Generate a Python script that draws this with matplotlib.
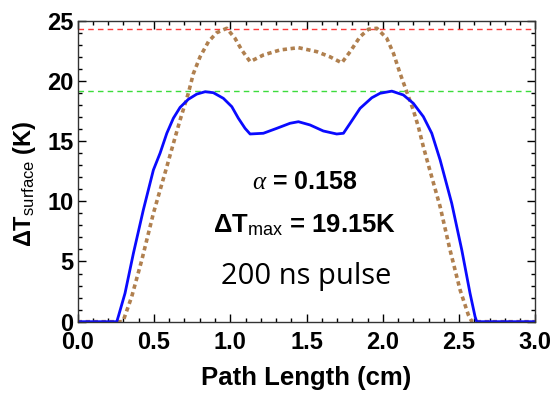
import numpy as np
import matplotlib.pyplot as plt
from matplotlib.ticker import MultipleLocator

plt.rcParams['font.family'] = ['Liberation Sans', 'DejaVu Sans']
plt.rcParams['mathtext.fontset'] = 'custom'
plt.rcParams['mathtext.rm'] = 'Liberation Sans'
plt.rcParams['mathtext.bf'] = 'Liberation Sans:bold'
plt.rcParams['mathtext.it'] = 'Liberation Serif:italic'

# Данные
x_blue = [0.0, 0.256, 0.266, 0.31, 0.365, 0.43, 0.496, 0.54, 0.584, 0.627, 0.671, 0.725,
          0.78, 0.835, 0.889, 0.955, 1.01, 1.053, 1.097, 1.13, 1.217, 1.305, 1.392,
          1.447, 1.523, 1.61, 1.698, 1.742, 1.786, 1.851, 1.928, 1.982, 2.059, 2.135,
          2.2, 2.266, 2.321, 2.376, 2.452, 2.518, 2.572, 2.605, 2.616, 3.0]
y_blue = [0.0, 0.0, 0.42, 2.36, 5.68, 9.28, 12.6, 14.0, 15.65, 16.9, 17.8, 18.47,
          18.9, 19.1, 19.02, 18.55, 17.86, 16.9, 16.06, 15.59, 15.65, 16.06, 16.48,
          16.61, 16.34, 15.84, 15.59, 15.65, 16.48, 17.72, 18.6, 18.97, 19.15, 18.83,
          18.14, 17.03, 15.65, 13.43, 9.83, 5.95, 2.36, 0.42, 0.0, 0.0]

x_brown = [0.0, 0.289, 0.3, 0.354, 0.42, 0.496, 0.584, 0.627, 0.671, 0.725, 0.758, 0.802,
           0.857, 0.911, 0.977, 1.031, 1.075, 1.13, 1.217, 1.327, 1.447, 1.567, 1.654,
           1.731, 1.786, 1.851, 1.906, 1.961, 2.026, 2.07, 2.113, 2.157, 2.2, 2.233,
           2.266, 2.299, 2.376, 2.441, 2.507, 2.561, 2.584, 3.0]
y_brown = [0.0, 0.0, 0.14, 2.08, 5.12, 9.0, 12.87, 14.8, 16.75, 18.97, 20.6, 22.0,
           23.26, 24.0, 24.37, 23.54, 22.57, 21.6, 22.15, 22.57, 22.76, 22.43, 22.0,
           21.5, 22.43, 23.67, 24.29, 24.37, 23.54, 22.29, 20.63, 19.1, 17.58, 16.2,
           14.53, 13.01, 9.55, 5.95, 2.63, 0.56, 0.0, 0.0]

t_max_level = 24.34
dt_max = 19.15

fig = plt.figure(figsize=(5.56, 3.95), dpi=100)
ax = fig.add_axes([0.1398, 0.1856, 0.823, 0.762])

ax.axhline(t_max_level, color='#ff3b3b', linestyle=(0, (4, 3)), linewidth=1.0)
ax.axhline(dt_max, color='#3ddc3d', linestyle=(0, (4, 3)), linewidth=1.0)
ax.plot(x_brown, y_brown, color='#b0804f', linestyle=(0, (1.2, 1.0)), linewidth=2.6)
ax.plot(x_blue, y_blue, color='#0a0aff', linewidth=2.0)

ax.set_xlim(0, 3.0)
ax.set_ylim(0, 25)
ax.xaxis.set_major_locator(MultipleLocator(0.5))
ax.xaxis.set_minor_locator(MultipleLocator(0.1))
ax.yaxis.set_major_locator(MultipleLocator(5))
ax.yaxis.set_minor_locator(MultipleLocator(1))
ax.xaxis.set_major_formatter(plt.FuncFormatter(lambda v, p: f'{v:.1f}'))
ax.tick_params(which='both', direction='in', top=True, right=True, width=1.0)
ax.tick_params(which='major', length=6, labelsize=17)
ax.tick_params(axis='y', pad=3)
ax.tick_params(axis='x', pad=7)
ax.tick_params(which='minor', length=3)
for lab in ax.get_xticklabels() + ax.get_yticklabels():
    lab.set_fontweight('bold')
for s in ax.spines.values():
    s.set_linewidth(1.0)
    s.set_color('#333333')

ax.set_xlabel('Path Length (cm)', fontsize=18.5, fontweight='bold', labelpad=8)
ax.set_ylabel(r'$\mathbf{\Delta T}_{\mathrm{surface}}$ (K)', fontsize=17, fontweight='bold')
ax.yaxis.set_label_coords(-0.087, 0.46)

ax.text(1.49, 11.63, r'$\alpha$ = 0.158', fontsize=18, fontweight='bold', ha='center', va='center')
ax.text(1.49, 8.03, r'$\mathbf{\Delta T}_{\mathrm{max}}$ = 19.15K', fontsize=18.5, fontweight='bold',
        ha='center', va='center')
ax.text(1.495, 3.74, '200 ns pulse', fontsize=21, ha='center', va='center', family='Open Sans')

fig.savefig('out.png', dpi=100)
